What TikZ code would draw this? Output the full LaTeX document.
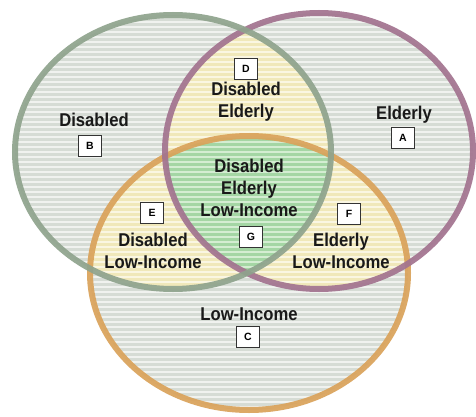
\documentclass[tikz,border=0pt]{standalone}
\usepackage{fontspec}
\setmainfont[FakeStretch=0.9]{Liberation Sans}
\newfontfamily\tagfont{Liberation Sans}
\definecolor{grayfill}{HTML}{D6DCD5}
\definecolor{graystripe}{HTML}{F0F2EF}
\definecolor{yelfill}{HTML}{F0E8BA}
\definecolor{yelstripe}{HTML}{FAF6E2}
\definecolor{grnfill}{HTML}{A4D6A4}
\definecolor{grnstripe}{HTML}{D4EDD2}
\definecolor{cGreen}{HTML}{8FA38D}
\definecolor{cPurple}{HTML}{A2738F}
\definecolor{cOrange}{HTML}{DAA25A}
\tikzset{
  lbl/.style={font=\bfseries\fontsize{18.5}{22}\selectfont, align=center, text=black!90, inner sep=0pt},
  tag/.style={draw=black!80, fill=white, line width=0.7pt, minimum width=23pt, minimum height=21pt, inner sep=0pt, font=\tagfont\fontsize{10.5}{12}\selectfont\bfseries},
  ring/.style={line width=6pt, opacity=0.92}
}
\def\pG{(173,152) ellipse [x radius=158pt, y radius=137pt]}
\def\pP{(319,151) ellipse [x radius=154pt, y radius=138pt]}
\def\pO{(249,273) ellipse [x radius=159pt, y radius=137pt]}
\newcommand{\stripes}[1]{\foreach \yy in {2,7,...,417} {\draw[#1, line width=2pt] (0,\yy) -- (476,\yy);}}
\begin{document}
\begin{tikzpicture}[x=1pt,y=-1pt]
\useasboundingbox (0,0) rectangle (476,417);
\fill[white] (0,0) rectangle (476,417);
% single regions
\begin{scope}\clip \pG; \fill[grayfill] (0,0) rectangle (476,417); \stripes{graystripe}\end{scope}
\begin{scope}\clip \pP; \fill[grayfill] (0,0) rectangle (476,417); \stripes{graystripe}\end{scope}
\begin{scope}\clip \pO; \fill[grayfill] (0,0) rectangle (476,417); \stripes{graystripe}\end{scope}
% pairwise
\begin{scope}\clip \pG; \clip \pP; \fill[yelfill] (0,0) rectangle (476,417); \stripes{yelstripe}\end{scope}
\begin{scope}\clip \pG; \clip \pO; \fill[yelfill] (0,0) rectangle (476,417); \stripes{yelstripe}\end{scope}
\begin{scope}\clip \pP; \clip \pO; \fill[yelfill] (0,0) rectangle (476,417); \stripes{yelstripe}\end{scope}
% triple
\begin{scope}\clip \pG; \clip \pP; \clip \pO; \fill[grnfill] (0,0) rectangle (476,417); \stripes{grnstripe}\end{scope}
% rings
\draw[ring, cOrange] \pO;
\draw[ring, cPurple] \pP;
\draw[ring, cGreen] \pG;
% labels
\node[lbl] (tB) at (94,120) {Disabled};
\node[tag] (B) at (90,146) {B};
\node[tag] (D) at (246,69) {D};
\node[lbl] (tD) at (246,102) {Disabled\\Elderly};
\node[lbl] (tA) at (404,115) {Elderly};
\node[tag] (A) at (403,138) {A};
\node[lbl] (tG) at (249,188) {Disabled\\Elderly\\Low-Income};
\node[tag] (G) at (251,237) {G};
\node[tag] (E) at (152,213) {E};
\node[lbl] (tE) at (153,251) {Disabled\\Low-Income};
\node[tag] (F) at (349,214) {F};
\node[lbl] (tF) at (341,251) {Elderly\\Low-Income};
\node[lbl] (tC) at (249,314) {Low-Income};
\node[tag] (C) at (248,337) {C};
\end{tikzpicture}
\end{document}
